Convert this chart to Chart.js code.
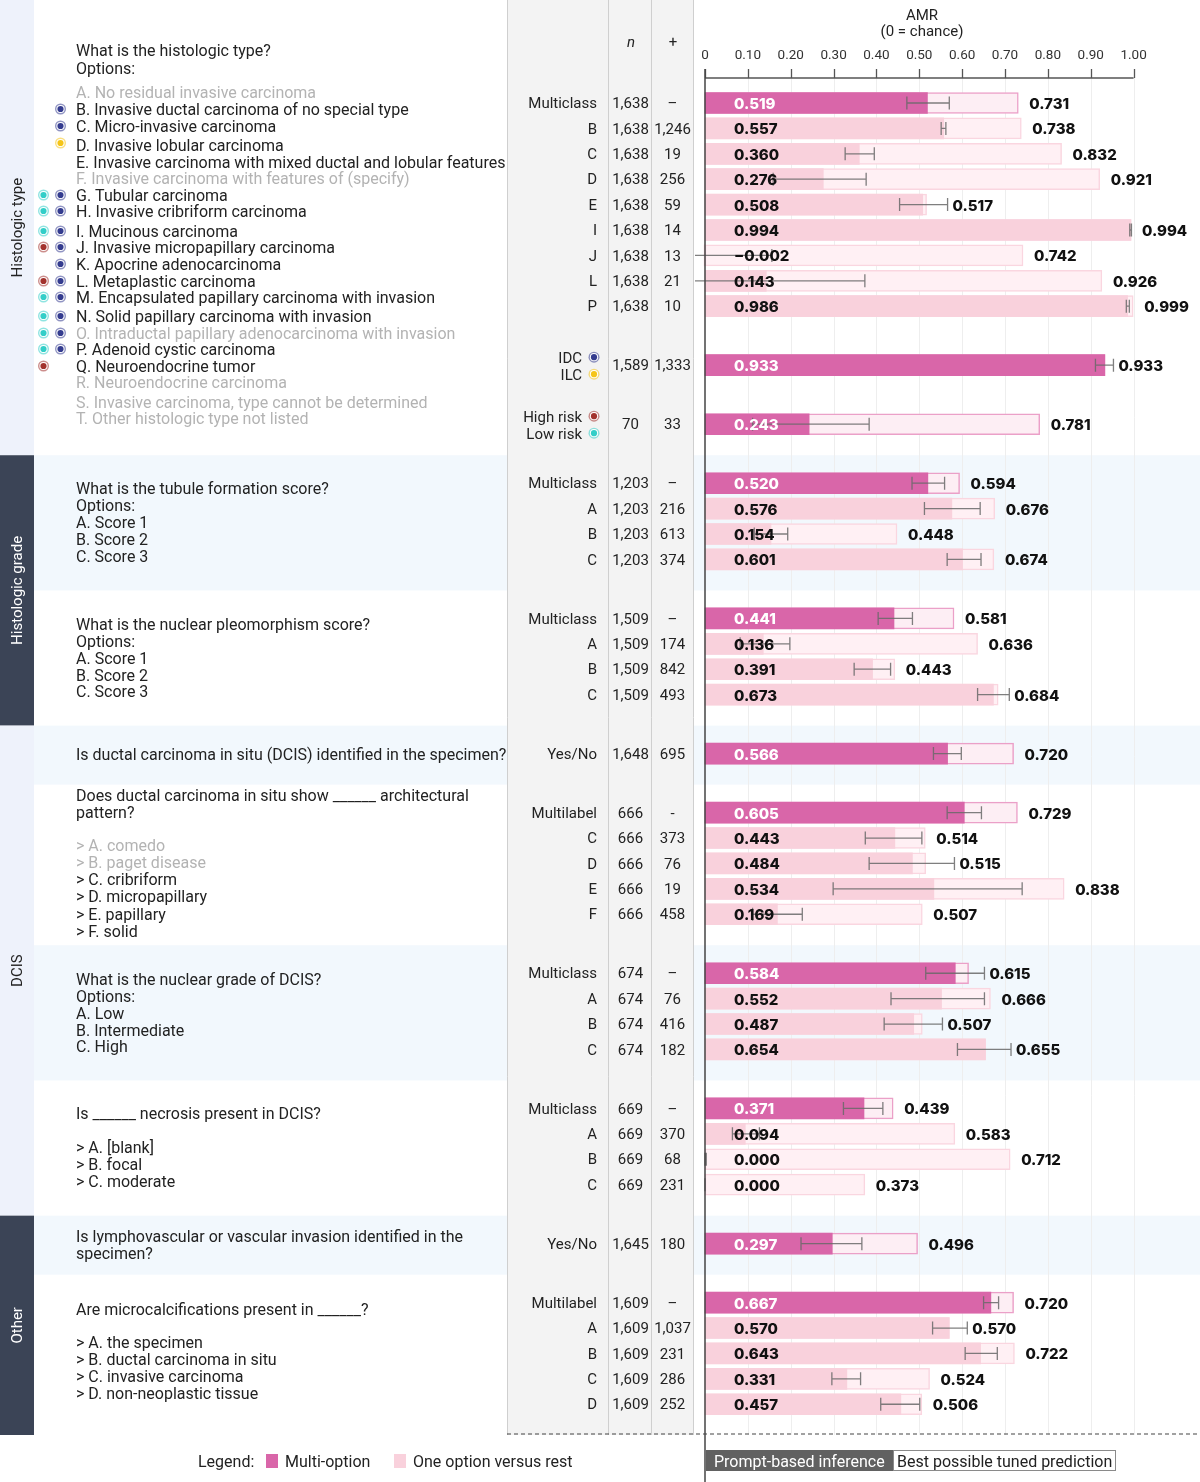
<!DOCTYPE html>
<html><head><meta charset="utf-8">
<script src="https://cdn.jsdelivr.net/npm/chart.js@4/dist/chart.umd.min.js"></script>
<style>html,body{margin:0;padding:0;background:#fff;}#wrap{width:1200px;height:1482px;position:relative;}canvas{display:block;}</style>
</head><body><div id="wrap"><canvas id="c" width="1200" height="1482"></canvas></div>
<script>
// ---------------- DATA ----------------
const groupSizes = [9, 1, 1, 4, 4, 1, 5, 4, 4, 1, 5];
const rowTypes = ['Multiclass','B','C','D','E','I','J','L','P',
  'IDC|ILC','High risk|Low risk',
  'Multiclass','A','B','C',
  'Multiclass','A','B','C',
  'Yes/No',
  'Multilabel','C','D','E','F',
  'Multiclass','A','B','C',
  'Multiclass','A','B','C',
  'Yes/No',
  'Multilabel','A','B','C','D'];
const nTotal = ['1,638','1,638','1,638','1,638','1,638','1,638','1,638','1,638','1,638',
  '1,589','70',
  '1,203','1,203','1,203','1,203',
  '1,509','1,509','1,509','1,509',
  '1,648',
  '666','666','666','666','666',
  '674','674','674','674',
  '669','669','669','669',
  '1,645',
  '1,609','1,609','1,609','1,609','1,609'];
const nPositive = ['–','1,246','19','256','59','14','13','21','10',
  '1,333','33',
  '–','216','613','374',
  '–','174','842','493',
  '695',
  '-','373','76','19','458',
  '–','76','416','182',
  '–','370','68','231',
  '180',
  '–','1,037','231','286','252'];
const promptAMR = [0.519,0.557,0.360,0.276,0.508,0.994,-0.002,0.143,0.986,
  0.933, 0.243,
  0.520,0.576,0.154,0.601,
  0.441,0.136,0.391,0.673,
  0.566,
  0.605,0.443,0.484,0.534,0.169,
  0.584,0.552,0.487,0.654,
  0.371,0.094,0.000,0.000,
  0.297,
  0.667,0.570,0.643,0.331,0.457];
const tunedAMR = [0.731,0.738,0.832,0.921,0.517,0.994,0.742,0.926,0.999,
  0.933, 0.781,
  0.594,0.676,0.448,0.674,
  0.581,0.636,0.443,0.684,
  0.720,
  0.729,0.514,0.515,0.838,0.507,
  0.615,0.666,0.507,0.655,
  0.439,0.583,0.712,0.373,
  0.496,
  0.720,0.570,0.722,0.524,0.506];
const ciLow = [0.471,0.551,0.327,0.159,0.454,0.991,-0.160,-0.087,0.983,
  0.911, 0.111,
  0.483,0.512,0.115,0.565,
  0.404,0.082,0.348,0.636,
  0.533,
  0.565,0.374,0.383,0.299,0.111,
  0.515,0.434,0.418,0.589,
  0.323,0.064,0.000,0.000,
  0.224,
  0.650,0.531,0.607,0.296,0.410];
const ciHigh = [0.570,0.562,0.395,0.376,0.566,0.995,0.156,0.373,0.990,
  0.953, 0.383,
  0.559,0.642,0.193,0.644,
  0.484,0.198,0.433,0.710,
  0.598,
  0.645,0.506,0.582,0.740,0.227,
  0.652,0.652,0.554,0.714,
  0.415,0.127,0.003,0.000,
  0.366,
  0.685,0.612,0.682,0.363,0.501];
const multiOption = rowTypes.map(t => ['Multiclass','Multilabel','Yes/No','IDC|ILC','High risk|Low risk'].includes(t));
const xTicks = [0,0.1,0.2,0.3,0.4,0.5,0.6,0.7,0.8,0.9,1.0];

const sections = ['Histologic type','Histologic grade','DCIS','Other'];
const histOptions = [
  'A. No residual invasive carcinoma','B. Invasive ductal carcinoma of no special type','C. Micro-invasive carcinoma',
  'D. Invasive lobular carcinoma','E. Invasive carcinoma with mixed ductal and lobular features',
  'F. Invasive carcinoma with features of (specify)','G. Tubular carcinoma','H. Invasive cribriform carcinoma',
  'I. Mucinous carcinoma','J. Invasive micropapillary carcinoma','K. Apocrine adenocarcinoma','L. Metaplastic carcinoma',
  'M. Encapsulated papillary carcinoma with invasion','N. Solid papillary carcinoma with invasion',
  'O. Intraductal papillary adenocarcinoma with invasion','P. Adenoid cystic carcinoma','Q. Neuroendocrine tumor',
  'R. Neuroendocrine carcinoma','S. Invasive carcinoma, type cannot be determined','T. Other histologic type not listed'];
const histOptionGray = [1,0,0,0,0,1,0,0,0,0,0,0,0,0,1,0,0,1,1,1];
const histRiskMark = ['','','','','','','low','low','low','high','','high','low','low','low','low','high','','',''];
const histTypeMark = ['','idc','idc','ilc','','','idc','idc','idc','idc','idc','idc','idc','idc','idc','idc','','','',''];

// ---------------- LAYOUT (not data) ----------------
const ROW_PX = 25.4, FIRST_ROW_PX = 103, GROUP_GAP = 1.323, BAND_LEAD = 1.102;
const rowPos = []; const groupStart = [];
(function(){ let u = 0; groupSizes.forEach((s, gi) => { if (gi > 0) u += GROUP_GAP; groupStart.push(rowPos.length); for (let k = 0; k < s; k++) { rowPos.push(u); u += 1; } }); })();
const CHART_TOP = 78, CHART_BOTTOM = 1435;
const yMin = (CHART_TOP - FIRST_ROW_PX) / ROW_PX, yMax = (CHART_BOTTOM - FIRST_ROW_PX) / ROW_PX;
const X0_PX = 705, X_UNIT = 428.6, CHART_LEFT = 695, W = 1200;
const xMin = (CHART_LEFT - X0_PX) / X_UNIT, xMax = xMin + (W - CHART_LEFT) / X_UNIT;
const TY = 1.5; // text baseline nudge

const questionBands = [
  {groups:[0,1,2], lines:[['What is the histologic type?',50],['Options:',68]]},
  {groups:[3], lines:[['What is the tubule formation score?',33],['Options:',50],['A. Score 1',67],['B. Score 2',84],['C. Score 3',101]]},
  {groups:[4], lines:[['What is the nuclear pleomorphism score?',34],['Options:',51],['A. Score 1',68],['B. Score 2',85],['C. Score 3',101]]},
  {groups:[5], lines:[['Is ductal carcinoma in situ (DCIS) identified in the specimen?',29]]},
  {groups:[6], lines:[['Does ductal carcinoma in situ show ______ architectural',11],['pattern?',28],['> A. comedo',61,1],['> B. paget disease',78,1],['> C. cribriform',95],['> D. micropapillary',112],['> E. papillary',130],['> F. solid',147]]},
  {groups:[7], lines:[['What is the nuclear grade of DCIS?',34],['Options:',51],['A. Low',68],['B. Intermediate',85],['C. High',101]]},
  {groups:[8], lines:[['Is ______ necrosis present in DCIS?',33],['> A. [blank]',67],['> B. focal',84],['> C. moderate',101]]},
  {groups:[9], lines:[['Is lymphovascular or vascular invasion identified in the',21],['specimen?',38]]},
  {groups:[10], lines:[['Are microcalcifications present in ______?',35],['> A. the specimen',68],['> B. ductal carcinoma in situ',85],['> C. invasive carcinoma',102],['> D. non-neoplastic tissue',119]]}
];
const sectionBands = [[0],[1,2],[3,4,5,6],[7,8]];
const sectionDark = [false,true,false,true];
const histOptY = [92,109,126,145,162,178,195,211,231,247,264,281,297,316,333,349,366,382,402,418];

const FONT = 'Roboto, "Open Sans", sans-serif';
const BOLD = '800 15px Inter, Roboto, sans-serif';
const MARK = {idc:'#343c8f', ilc:'#f5c518', high:'#a3322d', low:'#33cec8'};
const C_MULTI = '#d966a9', C_MULTI_T = '#fdeef4', C_MULTI_TB = '#eba0c8';
const C_ONE = '#f9d1dc', C_ONE_T = '#fff0f4', C_ONE_TB = '#fad6e0';

function target(ctx, x, y, col){
  ctx.save();
  ctx.globalAlpha = 0.55; ctx.fillStyle = col; ctx.beginPath(); ctx.arc(x, y, 5.5, 0, Math.PI*2); ctx.fill();
  ctx.globalAlpha = 1; ctx.fillStyle = '#fff'; ctx.beginPath(); ctx.arc(x, y, 4.1, 0, Math.PI*2); ctx.fill();
  ctx.fillStyle = col; ctx.beginPath(); ctx.arc(x, y, 3.1, 0, Math.PI*2); ctx.fill();
  ctx.restore();
}
function fmt(v){ const s = Math.abs(v).toFixed(3); return v < 0 ? '−' + s : s; }

const layoutPlugin = {
  id: 'layout',
  beforeDraw(chart){
    const ctx = chart.ctx, ys = chart.scales.y, xs = chart.scales.x, ca = chart.chartArea;
    const py = u => ys.getPixelForValue(u), px = v => xs.getPixelForValue(v);
    ctx.save();
    ctx.fillStyle = '#fff'; ctx.fillRect(0, 0, chart.width, chart.height);
    const tops = questionBands.map((b, i) => i === 0 ? 0 : py(rowPos[groupStart[b.groups[0]]] - BAND_LEAD));
    const bottoms = tops.map((t, i) => i < tops.length - 1 ? tops[i+1] : ca.bottom);
    chart.$bands = {tops, bottoms};
    questionBands.forEach((b, i) => {
      if (i % 2 === 1) { ctx.fillStyle = '#f2f8fd'; ctx.fillRect(34, tops[i], 473, bottoms[i]-tops[i]); ctx.fillRect(693, tops[i], W-693, bottoms[i]-tops[i]); }
    });
    sectionBands.forEach((bs, si) => {
      const t = tops[bs[0]], bt = bottoms[bs[bs.length-1]];
      ctx.fillStyle = sectionDark[si] ? '#3b4456' : '#eef2fb';
      ctx.fillRect(0, t, 34, bt - t);
      ctx.save(); ctx.translate(18, (t + bt) / 2); ctx.rotate(-Math.PI/2);
      ctx.fillStyle = sectionDark[si] ? '#fff' : '#222'; ctx.font = '15px ' + FONT; ctx.textAlign = 'center'; ctx.textBaseline = 'middle';
      ctx.fillText(sections[si], 0, 0); ctx.restore();
    });
    ctx.fillStyle = '#f3f3f3'; ctx.fillRect(507, 0, 186, ca.bottom);
    ctx.strokeStyle = '#cfcfcf'; ctx.lineWidth = 1;
    [507.5, 608.5, 651.5, 693.5].forEach(x => { ctx.beginPath(); ctx.moveTo(x, 0); ctx.lineTo(x, ca.bottom); ctx.stroke(); });
    ctx.strokeStyle = '#eeeeee'; ctx.lineWidth = 1;
    xTicks.forEach(v => { if (v === 0) return; const x = Math.round(px(v)) + 0.5; ctx.beginPath(); ctx.moveTo(x, ca.top); ctx.lineTo(x, ca.bottom); ctx.stroke(); });
    ctx.restore();
  },
  afterDatasetsDraw(chart){
    const ctx = chart.ctx, ys = chart.scales.y, xs = chart.scales.x, ca = chart.chartArea;
    const py = u => ys.getPixelForValue(u), px = v => xs.getPixelForValue(v);
    ctx.save();
    ctx.beginPath(); ctx.rect(ca.left, ca.top, ca.right - ca.left, ca.bottom - ca.top); ctx.clip();
    ctx.strokeStyle = 'rgba(105,105,105,0.85)'; ctx.lineWidth = 1.3;
    rowPos.forEach((u, i) => {
      const y = py(u), x1 = px(ciLow[i]), x2 = px(ciHigh[i]);
      ctx.beginPath(); ctx.moveTo(x1, y); ctx.lineTo(x2, y);
      ctx.moveTo(x1, y - 6.5); ctx.lineTo(x1, y + 6.5); ctx.moveTo(x2, y - 6.5); ctx.lineTo(x2, y + 6.5); ctx.stroke();
    });
    ctx.restore();
    ctx.save();
    ctx.font = BOLD; ctx.textBaseline = 'middle'; ctx.textAlign = 'left';
    rowPos.forEach((u, i) => {
      const y = py(u) + TY;
      ctx.fillStyle = multiOption[i] ? '#fff' : '#111';
      ctx.fillText(fmt(promptAMR[i]), px(0) + 29, y);
      ctx.fillStyle = '#111';
      const xl = Math.max(px(tunedAMR[i]) + 11, px(ciHigh[i]) + 5);
      ctx.fillText(fmt(tunedAMR[i]), xl, y);
    });
    ctx.restore();
  },
  afterDraw(chart){
    const ctx = chart.ctx, ys = chart.scales.y, xs = chart.scales.x, ca = chart.chartArea;
    const py = u => ys.getPixelForValue(u), px = v => xs.getPixelForValue(v);
    const {tops} = chart.$bands;
    ctx.save();
    ctx.strokeStyle = '#555'; ctx.lineWidth = 1.3;
    ctx.beginPath(); ctx.moveTo(px(0), CHART_TOP); ctx.lineTo(px(1), CHART_TOP); ctx.stroke();
    xTicks.forEach(v => { const x = Math.round(px(v)) + 0.5; ctx.beginPath(); ctx.moveTo(x, 69); ctx.lineTo(x, CHART_TOP); ctx.stroke(); });
    ctx.strokeStyle = '#444'; ctx.lineWidth = 1.5;
    ctx.beginPath(); ctx.moveTo(px(0), 69); ctx.lineTo(px(0), chart.height); ctx.stroke();
    ctx.fillStyle = '#333'; ctx.font = '13.5px ' + FONT; ctx.textAlign = 'center'; ctx.textBaseline = 'middle';
    xTicks.forEach(v => ctx.fillText(v === 0 ? '0' : v.toFixed(2), px(v), 54 + TY));
    ctx.font = '15px ' + FONT; ctx.fillStyle = '#222';
    ctx.fillText('AMR', 922, 15 + TY); ctx.fillText('(0 = chance)', 922, 31 + TY);
    ctx.font = 'italic 15px ' + FONT; ctx.fillText('n', 631, 42 + TY);
    ctx.font = '15px ' + FONT; ctx.fillText('+', 673, 42 + TY);
    ctx.font = '15px ' + FONT; ctx.fillStyle = '#222';
    rowPos.forEach((u, i) => {
      const y = py(u) + TY;
      ctx.textAlign = 'center';
      ctx.fillText(nTotal[i], 630.5, y); ctx.fillText(nPositive[i], 672.5, y);
      ctx.textAlign = 'right';
      if (rowTypes[i].includes('|')) {
        const parts = rowTypes[i].split('|');
        const cols = rowTypes[i].startsWith('IDC') ? [MARK.idc, MARK.ilc] : [MARK.high, MARK.low];
        ctx.fillText(parts[0], 582, y - 7); ctx.fillText(parts[1], 582, y + 10);
        target(ctx, 594, y - 8 - TY, cols[0]); target(ctx, 594, y + 9 - TY, cols[1]);
      } else {
        ctx.fillText(rowTypes[i], 597, y);
      }
    });
    ctx.font = '16px ' + FONT;
    ctx.textAlign = 'left';
    questionBands.forEach((b, i) => {
      b.lines.forEach(l => { ctx.fillStyle = l[2] ? '#b3b3b3' : '#222'; ctx.fillText(l[0], 76, tops[i] + l[1] + TY); });
    });
    histOptions.forEach((t, i) => {
      const y = histOptY[i];
      ctx.fillStyle = histOptionGray[i] ? '#b3b3b3' : '#222';
      ctx.fillText(t, 76, y + TY);
      if (histRiskMark[i]) target(ctx, 43.5, y, MARK[histRiskMark[i]]);
      if (histTypeMark[i]) target(ctx, 60.5, y - (histTypeMark[i] === 'ilc' ? 2 : 0), MARK[histTypeMark[i]]);
    });
    ctx.strokeStyle = '#444'; ctx.lineWidth = 1.2; ctx.setLineDash([4, 3]);
    ctx.beginPath(); ctx.moveTo(507, ca.bottom - 1); ctx.lineTo(W, ca.bottom - 1); ctx.stroke();
    ctx.setLineDash([]);
    ctx.font = '16px ' + FONT; ctx.fillStyle = '#222'; ctx.textBaseline = 'middle';
    ctx.fillText('Legend:', 198, 1461 + TY);
    ctx.fillStyle = C_MULTI; ctx.fillRect(266, 1454, 12, 14);
    ctx.fillStyle = '#222'; ctx.fillText('Multi-option', 285, 1461 + TY);
    ctx.fillStyle = C_ONE; ctx.fillRect(394, 1454, 12, 14);
    ctx.fillStyle = '#222'; ctx.fillText('One option versus rest', 413, 1461 + TY);
    ctx.fillStyle = '#616161'; ctx.fillRect(706, 1450, 187, 21);
    ctx.fillStyle = '#fff'; ctx.fillText('Prompt-based inference', 714, 1461 + TY);
    ctx.fillStyle = '#fff'; ctx.fillRect(893, 1450, 223, 21);
    ctx.strokeStyle = '#8a8a8a'; ctx.lineWidth = 1; ctx.strokeRect(893.5, 1450.5, 222, 20);
    ctx.fillStyle = '#222'; ctx.fillText('Best possible tuned prediction', 897, 1461 + TY);
    ctx.restore();
  }
};

const rowsAsPoints = vals => vals.map((v, i) => ({x: v, y: rowPos[i]}));

new Chart(document.getElementById('c'), {
  type: 'bar',
  data: {
    datasets: [
      { label: 'Prompt-based inference', data: rowsAsPoints(promptAMR), order: 0, grouped: false, barThickness: 21,
        backgroundColor: c => multiOption[c.dataIndex] ? C_MULTI : C_ONE, borderWidth: 0 },
      { label: 'Best possible tuned prediction', data: rowsAsPoints(tunedAMR), order: 1, grouped: false, barThickness: 21,
        backgroundColor: c => multiOption[c.dataIndex] ? C_MULTI_T : C_ONE_T,
        borderColor: c => multiOption[c.dataIndex] ? C_MULTI_TB : C_ONE_TB, borderWidth: 1.5, borderSkipped: false }
    ]
  },
  options: {
    indexAxis: 'y', responsive: false, animation: false, devicePixelRatio: 1,
    layout: { padding: { left: CHART_LEFT, right: 0, top: CHART_TOP, bottom: 1482 - CHART_BOTTOM } },
    scales: {
      x: { type: 'linear', min: xMin, max: xMax, display: false, offset: false },
      y: { type: 'linear', min: yMin, max: yMax, reverse: true, display: false, offset: false }
    },
    plugins: { legend: { display: false }, tooltip: { enabled: false } }
  },
  plugins: [layoutPlugin]
});
</script></body></html>
